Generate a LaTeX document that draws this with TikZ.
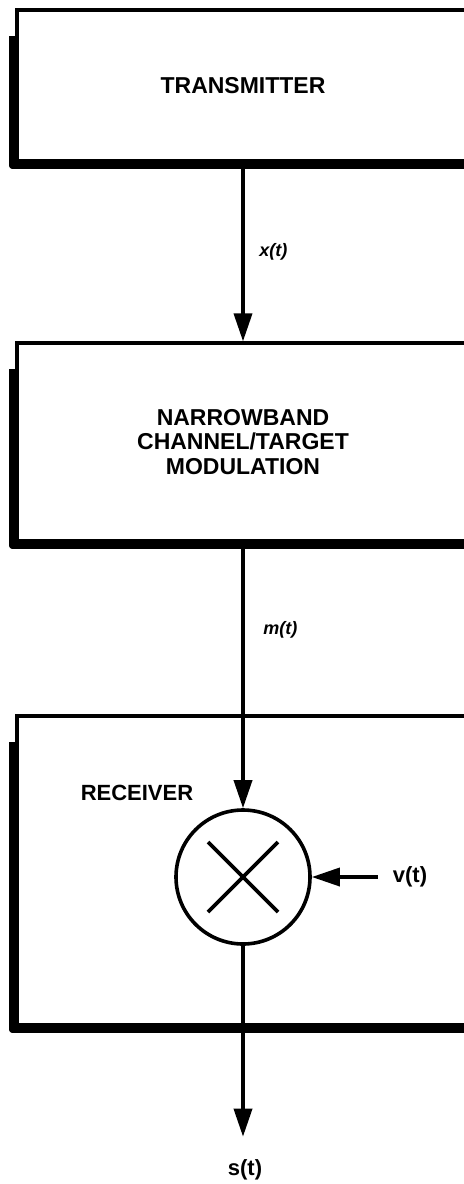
\documentclass[tikz,border=0pt]{standalone}
\usepackage{fontspec}
\setmainfont{Liberation Sans}
\usetikzlibrary{arrows.meta}

\begin{document}
\begin{tikzpicture}[x=0.5pt,y=-0.5pt,>={Triangle[length=14pt,width=9pt]},
  block/.style={draw, line width=1.6pt, rectangle, minimum width=226pt,
    align=center, font=\fontsize{11.5}{12.3}\selectfont\bfseries},
  shade/.style={line width=3pt, line join=round},
  flow/.style={->, line width=1.8pt},
  sig/.style={font=\fontsize{9}{11}\selectfont\bfseries\itshape},
  boldlabel/.style={font=\fontsize{11}{13}\selectfont\bfseries}]
  \useasboundingbox (0,0) rectangle (463,1184);
  % Blocks
  \node[block, minimum height=75.5pt] (tx) at (243,85.5) {TRANSMITTER};
  \node[block, minimum height=99pt] (ch) at (243,442)
    {NARROWBAND\\CHANNEL/TARGET\\MODULATION};
  \node[block, minimum height=154.5pt] (rx) at (243,870.5) {};
  \node[boldlabel] (rxlabel) at (137,793) {RECEIVER};
  % Heavy left and bottom edges
  \foreach \b in {tx,ch,rx}
    \draw[shade] ([shift={(-1.5pt,-14pt)}]\b.north west)
      -- ([shift={(-1.5pt,-1.5pt)}]\b.south west)
      -- ([yshift=-1.5pt]\b.south east);
  % Mixer
  \node[draw, circle, line width=1.8pt, minimum size=67pt, inner sep=0pt] (mix) at (243,877) {};
  \draw[line width=1.8pt] ([shift={(-17.5pt,17.5pt)}]mix.center) -- ([shift={(17.5pt,-17.5pt)}]mix.center);
  \draw[line width=1.8pt] ([shift={(-17.5pt,-17.5pt)}]mix.center) -- ([shift={(17.5pt,17.5pt)}]mix.center);
  % Inputs and output
  \node[boldlabel] (vin) at (410,877) {v(t)};
  \node[boldlabel] (sout) at (245,1170) {s(t)};
  % Signal flow
  \draw[flow] (tx.south) -- (ch.north) node[midway, right=4pt, sig] {x(t)};
  \draw[flow] (ch.south) -- (mix.north) node[pos=0.33, right=6pt, sig] {m(t)};
  \draw[flow] ([xshift=-4pt]vin.west) -- (mix.east);
  \draw[flow] (mix.south) -- ([yshift=8pt]mix.south |- sout.north);
\end{tikzpicture}
\end{document}
